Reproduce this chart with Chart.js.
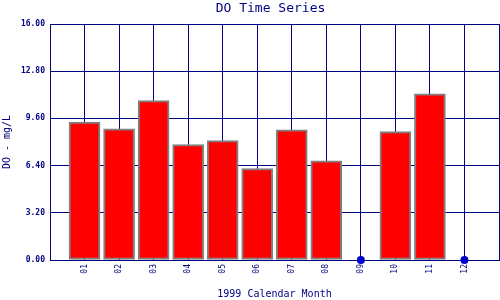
<!DOCTYPE html>
<html>
<head>
<meta charset="utf-8">
<script src="https://cdn.jsdelivr.net/npm/chart.js@4"></script>
<style>
  html, body { margin: 0; padding: 0; background: #fff; }
  #wrap { width: 500px; height: 300px; }
</style>
</head>
<body>
<div id="wrap"><canvas id="c" width="500" height="300"></canvas></div>
<script>
const chartTitle = 'DO Time Series';
const xTitle = '1999 Calendar Month';
const yTitle = 'DO - mg/L';
const months = ['01','02','03','04','05','06','07','08','09','10','11','12'];
const doValues = [9.35, 8.90, 10.80, 7.82, 8.09, 6.19, 8.83, 6.73, null, 8.70, 11.27, null];
const yMin = 0, yMax = 16, yStep = 3.2;

const NAVY = '#000080';
const FONT = '"DejaVu Sans Mono", "Liberation Mono", monospace';

// pad the category axis with an empty slot at each end
const labels = [''].concat(months, ['']);
const barData = [null].concat(doValues, [null]);
const missingData = [null].concat(doValues.map(v => v === null ? 0 : null), [null]);

const titlePlugin = {
  id: 'centerTitle',
  afterDraw(chart) {
    const ctx = chart.ctx, a = chart.chartArea;
    ctx.save();
    ctx.fillStyle = NAVY;
    ctx.font = '13px ' + FONT;
    ctx.textAlign = 'center';
    ctx.textBaseline = 'middle';
    ctx.fillText(chartTitle, (a.left + a.right) / 2 - 4, 9);
    ctx.restore();
  }
};

new Chart(document.getElementById('c'), {
  data: {
    labels: labels,
    datasets: [
      {
        type: 'bar',
        data: barData,
        backgroundColor: '#ff0000',
        borderColor: '#808080',
        borderWidth: 2,
        borderSkipped: false,
        barThickness: 31,
        order: 2
      },
      {
        type: 'line',
        data: missingData,
        showLine: false,
        pointRadius: 4,
        pointHoverRadius: 4,
        pointBackgroundColor: '#0000cc',
        pointBorderColor: '#0000cc',
        pointBorderWidth: 0,
        clip: false,
        order: 1
      }
    ]
  },
  options: {
    responsive: false,
    animation: false,
    events: [],
    layout: { autoPadding: false, padding: { top: 24, right: 1, left: 0, bottom: 0 } },
    plugins: {
      legend: { display: false },
      tooltip: { enabled: false },
      title: { display: false }
    },
    scales: {
      x: {
        type: 'category',
        offset: false,
        afterFit(s) { s.height = 40; s.paddingLeft = 0; s.paddingRight = 0; },
        grid: { color: NAVY, lineWidth: 1, drawTicks: false, offset: false },
        border: { color: NAVY, width: 1 },
        ticks: {
          autoSkip: false,
          minRotation: 90,
          maxRotation: 90,
          padding: 4,
          color: NAVY,
          font: { family: FONT, size: 8 }
        },
        title: {
          display: true,
          text: xTitle,
          color: NAVY,
          font: { family: FONT, size: 10 },
          padding: { top: 0, bottom: 0 }
        }
      },
      y: {
        min: yMin,
        max: yMax,
        afterFit(s) { s.width = 50; s.paddingTop = 0; s.paddingBottom = 0; },
        grid: { color: NAVY, lineWidth: 1, drawTicks: false },
        border: { color: NAVY, width: 1 },
        ticks: {
          stepSize: yStep,
          padding: 5,
          color: NAVY,
          font: { family: FONT, size: 8, weight: 'bold' },
          callback: v => Number(v).toFixed(2)
        },
        title: {
          display: true,
          text: yTitle,
          color: NAVY,
          font: { family: FONT, size: 10 },
          padding: { top: 1, bottom: 0 }
        }
      }
    }
  },
  plugins: [titlePlugin]
});
</script>
</body>
</html>
